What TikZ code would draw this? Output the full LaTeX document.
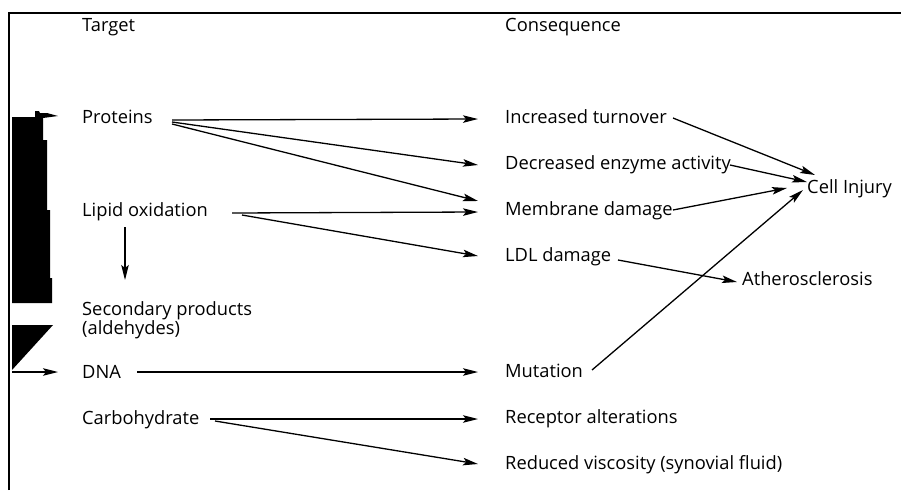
\documentclass[tikz,border=0pt]{standalone}
\usepackage{fontspec}
\setmainfont{Open Sans}
\usetikzlibrary{arrows.meta,calc}
\begin{document}
\begin{tikzpicture}[x=1pt,y=1pt,
  lbl/.style={anchor=west, inner sep=0pt, text height=13pt, text depth=0pt,
              font=\fontsize{18.3}{21}\selectfont},
  arr/.style={line width=1.3pt, -{Stealth[length=15pt,width=7.5pt,inset=3pt]}},
  frame/.style={line width=2.3pt}]
\useasboundingbox (0,0) rectangle (901,-490);

% frame: left and top rules
\draw[frame] (8.7,-490) -- (8.7,-12.8) -- (901,-12.8);

% black bar on the left with its small pointer
\fill (12,-117) -- (35,-117) -- (35,-111) -- (39,-111) -- (40,-113) -- (47,-113)
  -- (58,-116) -- (43,-118) -- (43,-140) -- (47,-140) -- (47,-210) -- (50,-210)
  -- (50,-278) -- (52,-278) -- (52,-303) -- (12,-303) -- cycle;
% black wedge with pointer to DNA
\fill (12,-325) -- (53,-325) -- (12,-370) -- cycle;
\draw[arr] (12,-372) -- (58,-372);

% headings
\node[lbl] (target) at (82,-25) {Target};
\node[lbl] (conseq) at (505,-25) {Consequence};

% targets
\node[lbl] (proteins) at (82,-117) {Proteins};
\node[lbl] (lipid)    at (82,-210) {Lipid oxidation};
\node[lbl] (sec1)     at (82,-309) {Secondary products};
\node[lbl] (sec2)     at (82,-328) {(aldehydes)};
\node[lbl] (dna)      at (82,-372) {DNA};
\node[lbl] (carb)     at (82,-418) {Carbohydrate};

% consequences
\node[lbl] (incr)  at (505,-117) {Increased turnover};
\node[lbl] (decr)  at (505,-163) {Decreased enzyme activity};
\node[lbl] (memb)  at (505,-209) {Membrane damage};
\node[lbl] (ldl)   at (505,-255) {LDL damage};
\node[lbl] (mut)   at (505,-371) {Mutation};
\node[lbl] (recep) at (505,-417) {Receptor alterations};
\node[lbl] (visc)  at (505,-463) {Reduced viscosity (synovial fluid)};

% outcomes
\node[lbl] (cell)  at (807,-187) {Cell Injury};
\node[lbl] (ather) at (742,-279) {Atherosclerosis};

% target -> consequence
\draw[arr] ($(proteins.west)+(90,-3)$) -- ($(incr.west)+(-27,-2)$);
\draw[arr] ($(proteins.west)+(90,-5)$) -- ($(decr.west)+(-27,-2)$);
\draw[arr] ($(proteins.west)+(90,-7)$) -- ($(memb.west)+(-27,8)$);
\draw[arr] ($(lipid.west)+(150,-3)$) -- ($(memb.west)+(-27,-3)$);
\draw[arr] ($(lipid.west)+(160,-5)$) -- ($(ldl.west)+(-27,-1)$);
\draw[arr] ($(lipid.west)+(43,-17)$) -- ($(sec1.west)+(43,29)$);
\draw[arr] ($(dna.west)+(55,0)$) -- ($(mut.west)+(-27,-1)$);
\draw[arr] ($(carb.west)+(128,-1)$) -- ($(recep.west)+(-27,-2)$);
\draw[arr] ($(carb.west)+(133,-3)$) -- ($(visc.west)+(-27,-1)$);

% consequence -> outcome
\draw[arr] ($(incr.west)+(168,-1)$) -- ($(cell.west)+(8,12)$);
\draw[arr] ($(decr.west)+(225,-2)$) -- ($(cell.west)+(0,5)$);
\draw[arr] ($(memb.west)+(168,-1)$) -- ($(cell.west)+(-20,-1)$);
\draw[arr] ($(mut.west)+(87,1)$) -- ($(cell.west)+(-4,-3)$);
\draw[arr] ($(ldl.west)+(113,-5)$) -- ($(ather.west)+(-5,-3)$);
\end{tikzpicture}
\end{document}
